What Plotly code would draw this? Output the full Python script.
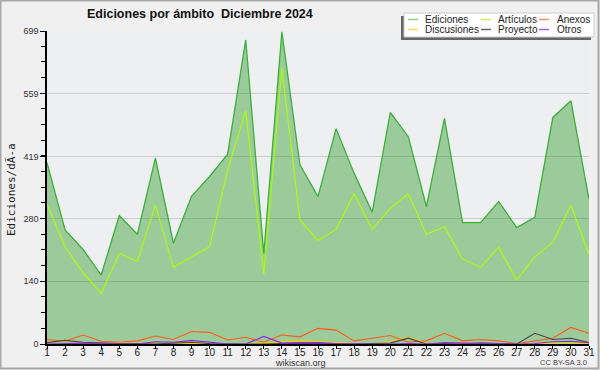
import plotly.graph_objects as go

days = list(range(1, 32))

ediciones = [405, 255, 211, 154, 287, 245, 415, 225, 330, 374, 424, 679, 202, 697, 400, 329,
             481, 381, 294, 517, 463, 307, 504, 271, 271, 318, 260, 283, 506, 543, 323]
articulos = [313, 217, 159, 113, 202, 185, 310, 171, 195, 217, 389, 521, 156, 616, 277, 231,
             256, 336, 256, 303, 335, 245, 262, 190, 171, 216, 143, 195, 227, 310, 200]
anexos = [10, 6, 20, 6, 4, 7, 18, 10, 28, 26, 9, 15, 4, 20, 16, 35,
          31, 7, 13, 19, 4, 7, 24, 7, 10, 7, 1, 7, 13, 37, 24]
discusiones = [5, 6, 4, 2, 2, 1, 1, 1, 2, 1, 0, 0, 2, 5, 8, 6,
               4, 1, 1, 5, 15, 1, 2, 1, 1, 1, 0, 1, 1, 2, 1]
proyecto = [3, 8, 4, 2, 1, 1, 0, 2, 4, 1, 0, 0, 0, 1, 2, 1,
            0, 0, 1, 2, 13, 0, 1, 0, 2, 1, 0, 24, 10, 13, 3]
otros = [0, 1, 2, 1, 0, 0, 5, 4, 8, 4, 0, 0, 17, 2, 2, 3,
         1, 0, 0, 0, 1, 0, 3, 2, 1, 0, 0, 1, 5, 6, 3]

y_tickvals = [0, 140, 280, 419, 559, 699]
y_ticktext = ["0", "140", "280", "419", "559", "699"]

names = ["Ediciones", "Artículos", "Anexos", "Discusiones", "Proyecto", "Otros"]
colors = ["#3caf3c", "#aaff00", "#ff5a14", "#ffcc00", "#444444", "#8a2be2"]
legend_colors = ["#8fd08f", "#c8f060", "#ff9060", "#ffd850", "#666666", "#a060f0"]
series = [ediciones, articulos, anexos, discusiones, proyecto, otros]

W, H = 600, 370
L, R, T, B = 47, 11, 31, 26
pw, ph = W - L - R, H - T - B

fig = go.Figure()
for i, (nm, col, vals) in enumerate(zip(names, colors, series)):
    if i == 0:
        fig.add_trace(go.Scatter(x=days, y=vals, name=nm, mode="lines",
                                 line=dict(color=col, width=1.3),
                                 fill="tozeroy", fillcolor="rgba(31,149,28,0.40)"))
    else:
        fig.add_trace(go.Scatter(x=days, y=vals, name=nm, mode="lines",
                                 line=dict(color=col, width=1.1)))


def px_x(p):
    return (p - L) / pw


def px_y(p):
    return 1 - (p - T) / ph


shapes = []
annotations = []
# outer border
shapes.append(dict(type="rect", xref="paper", yref="paper",
                   x0=px_x(0.5), x1=px_x(W - 1.5), y0=px_y(H - 1.5), y1=px_y(0.5),
                   line=dict(color="#a8a8a8", width=2), layer="below"))

# legend box (manual)
lx0, lx1, ly0, ly1 = 404, 594, 13, 37
shapes.append(dict(type="rect", xref="paper", yref="paper",
                   x0=px_x(lx0 - 3), x1=px_x(lx1 - 3), y0=px_y(ly1 + 3), y1=px_y(ly0 + 3),
                   fillcolor="#666666", line=dict(width=0)))
shapes.append(dict(type="rect", xref="paper", yref="paper",
                   x0=px_x(lx0), x1=px_x(lx1), y0=px_y(ly1), y1=px_y(ly0),
                   fillcolor="#ffffff", line=dict(color="#cccccc", width=1)))
col_line_x = [408, 481, 539]
col_text_x = [423, 496, 555]
row_y = [19.5, 29.5]
for i, (nm, col) in enumerate(zip(names, legend_colors)):
    r, c = divmod(i, 3)
    shapes.append(dict(type="line", xref="paper", yref="paper",
                       x0=px_x(col_line_x[c]), x1=px_x(col_line_x[c] + 10),
                       y0=px_y(row_y[r]), y1=px_y(row_y[r]),
                       line=dict(color=col, width=1.5)))
    annotations.append(dict(text=nm, xref="paper", yref="paper",
                            x=px_x(col_text_x[c]), y=px_y(row_y[r]),
                            xanchor="left", yanchor="middle", showarrow=False,
                            font=dict(family="Liberation Sans", size=10, color="#222222")))

# title
annotations.append(dict(text="<b>Ediciones por ámbito  Diciembre 2024</b>", xref="paper", yref="paper",
                        x=px_x(85), y=px_y(14), xanchor="left", yanchor="middle", showarrow=False,
                        font=dict(family="Liberation Sans", size=12.5, color="#111111")))
# footer
annotations.append(dict(text="wikiscan.org", xref="paper", yref="paper",
                        x=px_x(300), y=px_y(362.5), xanchor="center", yanchor="middle", showarrow=False,
                        font=dict(family="Liberation Sans", size=9, color="#333333")))
annotations.append(dict(text="CC BY-SA 3.0", xref="paper", yref="paper",
                        x=px_x(589), y=px_y(362.5), xanchor="right", yanchor="middle", showarrow=False,
                        font=dict(family="Liberation Sans", size=7.5, color="#444444")))
# y axis title
annotations.append(dict(text="Ediciones/dÃ-a", xref="paper", yref="paper",
                        x=px_x(11), y=px_y(190), xanchor="center", yanchor="middle", showarrow=False,
                        textangle=-90,
                        font=dict(family="DejaVu Sans Mono", size=11, color="#222222")))

fig.update_layout(
    width=W, height=H,
    margin=dict(l=L, r=R, t=T, b=B, autoexpand=False),
    paper_bgcolor="#f0f0f0",
    plot_bgcolor="#eeeff1",
    showlegend=False,
    shapes=shapes,
    annotations=annotations,
    xaxis=dict(range=[1, 31], tickvals=days, ticktext=[str(d) for d in days],
               automargin=False,
               showgrid=False, zeroline=False, showline=True, linecolor="#000000", linewidth=1.5,
               ticks="outside", ticklen=3, tickcolor="#000000", ticklabelstandoff=-5,
               tickfont=dict(family="Liberation Sans", size=10, color="#222222")),
    yaxis=dict(range=[0, 699], tickvals=y_tickvals, ticktext=y_ticktext,
               automargin=False,
               showgrid=True, gridcolor="#cccccc", gridwidth=1, zeroline=False,
               showline=True, linecolor="#000000", linewidth=1.5,
               ticks="outside", ticklen=5, tickcolor="#000000",
               minor=dict(dtick=35, tick0=0, ticks="outside", ticklen=4, tickcolor="#000000", showgrid=False),
               tickfont=dict(family="Liberation Sans", size=9, color="#333333")),
)

fig.write_html("out.html", config={"displayModeBar": False},
               post_script="document.body.style.margin='0';document.body.style.overflow='hidden';")
